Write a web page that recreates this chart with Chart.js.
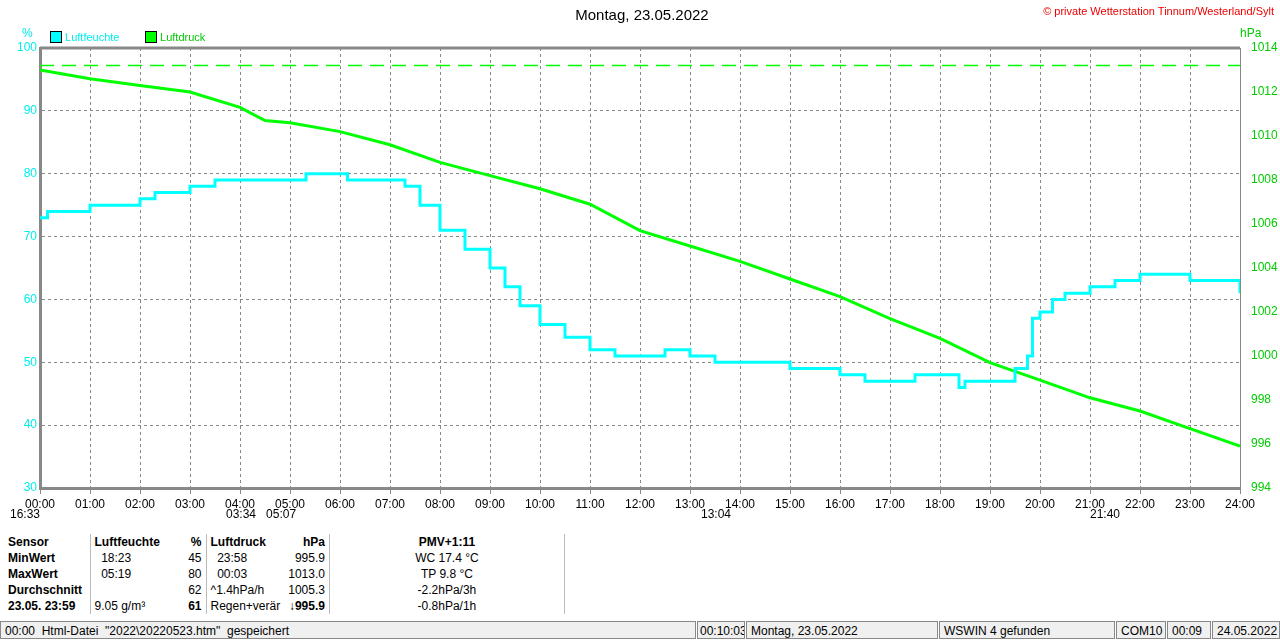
<!DOCTYPE html>
<html><head><meta charset="utf-8">
<script src="https://cdn.jsdelivr.net/npm/chart.js@4"></script>
<style>
body{margin:0;width:1280px;height:641px;overflow:hidden;background:#fff;font-family:"Liberation Sans",Arial,sans-serif;font-size:12px;position:relative}
.abs{position:absolute;white-space:nowrap}
#wrap{position:absolute;left:0;top:0;width:1280px;height:515px}
table{border-collapse:collapse;font-size:12px;table-layout:fixed}
td{padding:0 4px;height:16px;white-space:nowrap;overflow:hidden}
.b{font-weight:bold}
.l{border-left:1px solid #bbb}
.r{text-align:right}
.status{position:absolute;top:621px;height:18px;border:1px solid #888;background:#f0f0f0;font-size:12px;line-height:18px;padding-left:4px;box-sizing:border-box;white-space:nowrap;overflow:hidden}
</style></head><body>
<div id="wrap"><canvas id="c"></canvas></div>
<div class="abs" style="left:0;width:1284px;top:6px;text-align:center;font-size:15px">Montag, 23.05.2022</div>
<div class="abs" style="right:6px;top:5px;color:#e00;font-size:11px">© private Wetterstation Tinnum/Westerland/Sylt</div>
<div class="abs" style="left:22px;top:26px;color:#0ee;font-size:12px">%</div>
<div class="abs" style="left:1240px;top:26px;color:#0c0;font-size:12px">hPa</div>
<div class="abs" style="left:50px;top:31px;color:#0ee;font-size:11px"><span style="display:inline-block;width:10px;height:10px;background:#0ff;border:1px solid #000;vertical-align:-2px"></span> Luftfeuchte</div>
<div class="abs" style="left:145px;top:31px;color:#0c0;font-size:11px"><span style="display:inline-block;width:10px;height:10px;background:#0f0;border:1px solid #000;vertical-align:-2px"></span> Luftdruck</div>
<div class="abs" style="left:10px;top:507px">16:33</div>
<div class="abs" style="left:226px;top:507px">03:34 &nbsp;&nbsp;05:07</div>
<div class="abs" style="left:701px;top:507px">13:04</div>
<div class="abs" style="left:1090px;top:507px">21:40</div>
<div class="abs" style="left:4px;top:534px">
<table><colgroup><col style="width:86px"><col style="width:92px"><col style="width:24px"><col style="width:76px"><col style="width:42px"><col style="width:235px"><col style="width:700px"></colgroup>
<tr><td class="b">Sensor</td><td class="b l">Luftfeuchte</td><td class="b r">%</td><td class="b l">Luftdruck</td><td class="b r">hPa</td><td class="b l" style="text-align:center">PMV+1:11</td><td class="l"></td></tr>
<tr><td class="b">MinWert</td><td class="l">&nbsp;&nbsp;18:23</td><td class="r">45</td><td class="l">&nbsp;&nbsp;23:58</td><td class="r">995.9</td><td class="l" style="text-align:center">WC 17.4 °C</td><td class="l"></td></tr>
<tr><td class="b">MaxWert</td><td class="l">&nbsp;&nbsp;05:19</td><td class="r">80</td><td class="l">&nbsp;&nbsp;00:03</td><td class="r">1013.0</td><td class="l" style="text-align:center">TP 9.8 °C</td><td class="l"></td></tr>
<tr><td class="b">Durchschnitt</td><td class="l"></td><td class="r">62</td><td class="l">^1.4hPa/h</td><td class="r">1005.3</td><td class="l" style="text-align:center">-2.2hPa/3h</td><td class="l"></td></tr>
<tr><td class="b">23.05. 23:59</td><td class="l">9.05 g/m³</td><td class="b r">61</td><td class="l">Regen+verär</td><td class="b r">↓995.9</td><td class="l" style="text-align:center">-0.8hPa/1h</td><td class="l"></td></tr>
</table></div>
<div class="status" style="left:0;width:696px">00:00 &nbsp;Html-Datei &nbsp;"2022\20220523.htm" &nbsp;gespeichert</div>
<div class="status" style="left:697px;width:48px;padding-left:2px">00:10:03</div>
<div class="status" style="left:746px;width:192px">Montag, 23.05.2022</div>
<div class="status" style="left:939px;width:176px">WSWIN 4 gefunden</div>
<div class="status" style="left:1116px;width:50px">COM10</div>
<div class="status" style="left:1167px;width:44px">00:09</div>
<div class="status" style="left:1212px;width:68px">24.05.2022</div>
<script>
const humTimes = [0,0.15,0.5,1,1.5,2,2.3,3,3.5,4,5,5.32,6,6.15,7,7.3,7.6,8,8.5,9,9.3,9.6,10,10.5,11,11.5,12,12.5,13,13.5,14,14.5,15,15.5,16,16.5,17,17.5,18,18.38,18.5,19,19.5,19.75,19.85,20,20.25,20.5,21,21.5,22,22.5,23,23.5,24];
const humValues = [73,74,74,75,75,76,77,78,79,79,79,80,80,79,79,78,75,71,68,65,62,59,56,54,52,51,51,52,51,50,50,50,49,49,48,47,47,48,48,46,47,47,49,51,57,58,60,61,62,63,64,64,63,63,61];
const presTimes = [0,1,2,3,4,4.5,5,6,7,8,9,10,11,12,13,14,15,16,17,18,19,20,21,22,23,24];
const presValues = [1013.0,1012.6,1012.3,1012.0,1011.3,1010.7,1010.6,1010.2,1009.6,1008.8,1008.2,1007.6,1006.9,1005.7,1005.0,1004.3,1003.5,1002.7,1001.7,1000.8,999.7,998.9,998.1,997.5,996.7,995.9];
const presRefLine = 1013.2;
const xTicks = [...Array(25).keys()];

const font = {size:12,family:'Liberation Sans'};
new Chart(document.getElementById('c'),{
  type:'line',
  data:{datasets:[
    {label:'Luftfeuchte',data:humTimes.map((t,i)=>({x:t,y:humValues[i]})),borderColor:'#0ff',borderWidth:3,stepped:true,pointRadius:0,yAxisID:'y'},
    {label:'Luftdruck',data:presTimes.map((t,i)=>({x:t,y:presValues[i]})),borderColor:'#0f0',borderWidth:3,pointRadius:0,tension:0,yAxisID:'y2'},
    {label:'ref',data:[{x:0,y:presRefLine},{x:24,y:presRefLine}],borderColor:'#0f0',borderWidth:1.5,borderDash:[14,8],pointRadius:0,yAxisID:'y2'}
  ]},
  options:{
    responsive:true,maintainAspectRatio:false,animation:false,
    layout:{padding:{top:48,bottom:0,left:0,right:0}},
    plugins:{legend:{display:false},tooltip:{enabled:false}},
    scales:{
      x:{type:'linear',min:0,max:24,afterBuildTicks:a=>{a.ticks=xTicks.map(v=>({value:v}))},
        ticks:{color:'#000',maxRotation:0,autoSkip:false,font,callback:v=>String(v).padStart(2,'0')+':00'},
        grid:{color:'#888',drawTicks:true,tickLength:6},border:{color:'#888',width:3,dash:[3,3]},afterFit:a=>{a.height=27}},
      y:{position:'left',min:30,max:100,ticks:{stepSize:10,color:'#0ee',font},
        grid:{color:'#888',drawTicks:false},border:{color:'#888',width:3,dash:[3,3]},afterFit:a=>{a.width=40}},
      y2:{position:'right',min:994,max:1014,ticks:{stepSize:2,color:'#0c0',font,callback:v=>String(v)},
        grid:{display:false},border:{color:'#888',width:1},afterFit:a=>{a.width=40}}
    }
  },
  plugins:[{id:'top',afterDraw(ch){const a=ch.chartArea,c=ch.ctx;c.save();c.strokeStyle='#888';c.lineWidth=3;c.beginPath();c.moveTo(a.left,a.top);c.lineTo(a.right,a.top);c.stroke();c.restore();}}]
});
</script></body></html>
